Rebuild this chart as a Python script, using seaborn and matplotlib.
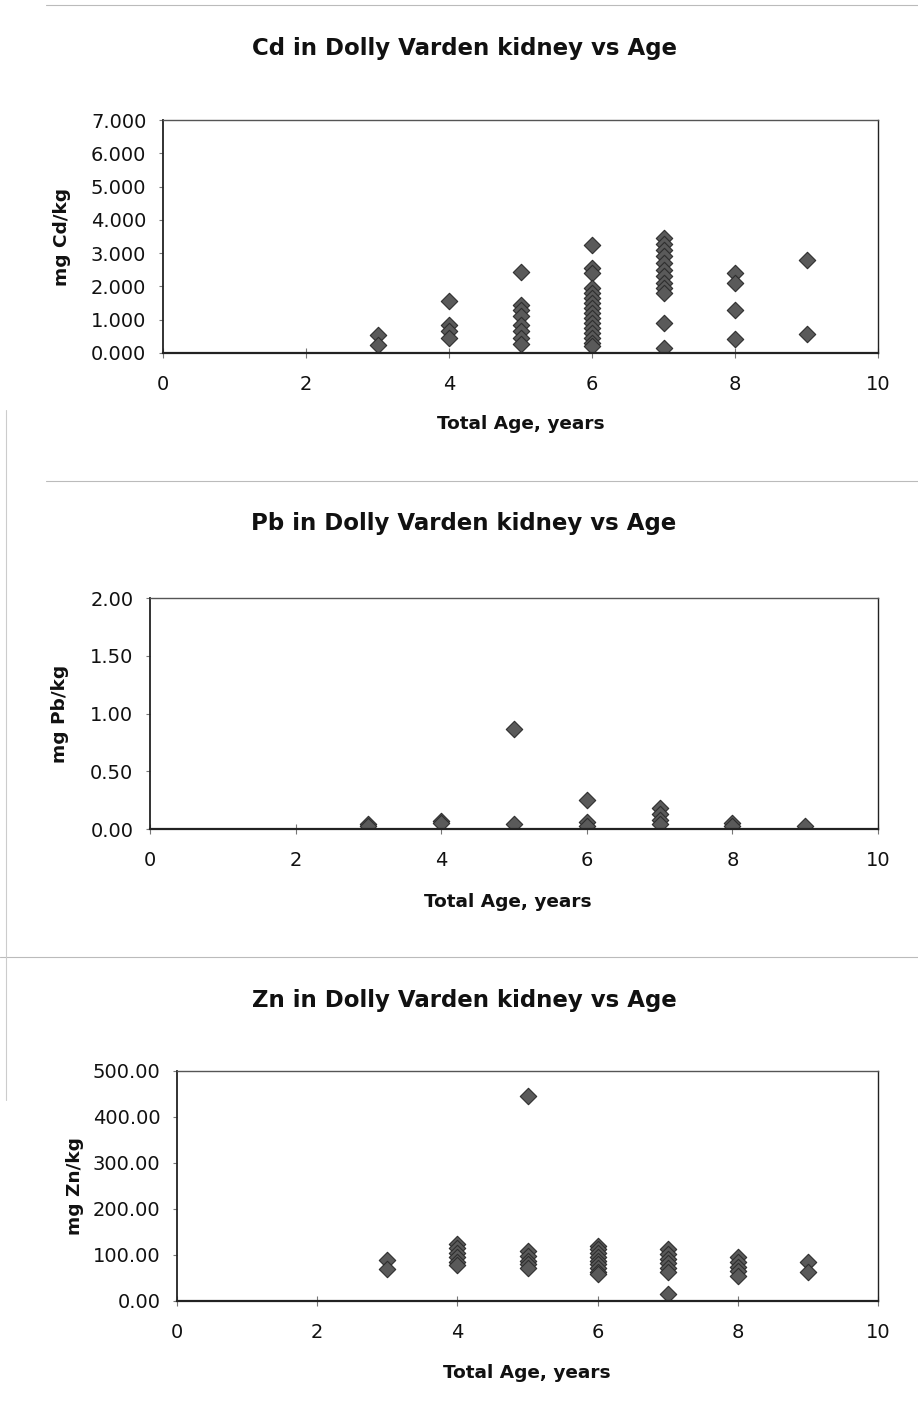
import matplotlib
matplotlib.use("Agg")
import matplotlib.pyplot as plt
import seaborn as sns
import pandas as pd
from matplotlib.ticker import FormatStrFormatter
from matplotlib.lines import Line2D

# ---- data ----
cd_age = [3, 3,
          4, 4, 4, 4,
          5, 5, 5, 5, 5, 5, 5, 5,
          6, 6, 6, 6, 6, 6, 6, 6, 6, 6, 6, 6, 6, 6, 6, 6,
          7, 7, 7, 7, 7, 7, 7, 7, 7, 7, 7, 7,
          8, 8, 8, 8,
          9, 9]
cd_val = [0.55, 0.25,
          1.55, 0.85, 0.65, 0.45,
          2.42, 1.45, 1.30, 1.10, 0.85, 0.65, 0.45, 0.28,
          3.25, 2.55, 2.40, 1.95, 1.80, 1.65, 1.50, 1.35, 1.20, 1.05, 0.90, 0.75, 0.60, 0.45, 0.30, 0.20,
          3.45, 3.28, 3.10, 2.90, 2.70, 2.50, 2.30, 2.10, 1.95, 1.80, 0.90, 0.15,
          2.40, 2.10, 1.30, 0.42,
          2.78, 0.57]

pb_age = [3, 3, 4, 4, 5, 5, 6, 6, 6, 7, 7, 7, 7, 8, 8, 9]
pb_val = [0.04, 0.03, 0.07, 0.05, 0.87, 0.04, 0.25, 0.06, 0.03, 0.18, 0.13, 0.08, 0.04, 0.05, 0.03, 0.03]

zn_age = [3, 3,
          4, 4, 4, 4, 4, 4,
          5, 5, 5, 5, 5, 5,
          6, 6, 6, 6, 6, 6, 6, 6, 6,
          7, 7, 7, 7, 7, 7, 7,
          8, 8, 8, 8, 8,
          9, 9]
zn_val = [90, 70,
          125, 115, 105, 95, 85, 78,
          445, 108, 98, 88, 80, 72,
          120, 112, 104, 96, 88, 80, 72, 64, 58,
          112, 102, 92, 82, 72, 62, 15,
          95, 85, 75, 65, 55,
          85, 62]

titles = ["Cd in Dolly Varden kidney vs Age",
          "Pb in Dolly Varden kidney vs Age",
          "Zn in Dolly Varden kidney vs Age"]
ylabels = ["mg Cd/kg", "mg Pb/kg", "mg Zn/kg"]
xlabel = "Total Age, years"
ylims = [(0, 7), (0, 2), (0, 500)]
ysteps = [1, 0.5, 100]
yfmts = ["%.3f", "%.2f", "%.2f"]

sns.set_style("white")
plt.rcParams['font.family'] = ['DejaVu Sans']

W, H = 918, 1426
fig = plt.figure(figsize=(W / 100, H / 100), dpi=100)

# axes boxes in pixels: left, right, top, bottom
boxes = [(163, 878, 120, 353), (150, 878, 598, 829), (177, 878, 1071, 1301)]
title_y = [48, 524, 1001]
xlabel_y = [424, 902, 1373]
xlabel_x = [521, 508, 527]
ylabel_x = [62, 60, 75]

datasets = [(cd_age, cd_val), (pb_age, pb_val), (zn_age, zn_val)]

for i, ((ages, vals), (l, r, t, b)) in enumerate(zip(datasets, boxes)):
    ax = fig.add_axes([l / W, 1 - b / H, (r - l) / W, (b - t) / H])
    df = pd.DataFrame({"age": ages, "val": vals})
    sns.scatterplot(data=df, x="age", y="val", ax=ax, marker="D", s=70,
                    color="#5a5a5a", edgecolor="#2e2e2e", linewidth=0.8, legend=False)
    ax.set_xlim(0, 10)
    ax.set_ylim(*ylims[i])
    ax.set_xticks(range(0, 11, 2))
    lo, hi = ylims[i]
    n = int(round((hi - lo) / ysteps[i]))
    ax.set_yticks([lo + k * ysteps[i] for k in range(n + 1)])
    ax.yaxis.set_major_formatter(FormatStrFormatter(yfmts[i]))
    ax.tick_params(axis="both", labelsize=14, colors="#111111")
    ax.tick_params(axis="x", direction="inout", length=7, width=0.8, color="#777777", pad=12, bottom=True)
    ax.tick_params(axis="y", direction="out", length=3, width=0.8, color="#777777", pad=9, left=True)
    ax.set_xlabel("")
    ax.set_ylabel("")
    for side, sp in ax.spines.items():
        sp.set_visible(True)
        sp.set_color("#222222")
        sp.set_linewidth(1.0)
    ax.spines["bottom"].set_linewidth(1.6)
    ax.spines["left"].set_linewidth(1.3)
    ax.spines["top"].set_color("#555555")
    ax.grid(False)

    fig.text(464 / W, 1 - title_y[i] / H, titles[i], ha="center", va="center",
             fontsize=16.5, fontweight="bold", color="#111111")
    fig.text(xlabel_x[i] / W, 1 - xlabel_y[i] / H, xlabel,
             ha="center", va="center", fontsize=13.3, fontweight="bold", color="#111111")
    fig.text(ylabel_x[i] / W, 1 - (t + b) / 2 / H, ylabels[i], ha="center", va="center",
             rotation=90, fontsize=13.3, fontweight="bold", color="#111111")

# faint scan separators
for y, x0, x1 in [(5, 0.05, 1.0), (481, 0.05, 1.0), (957, 0.0, 1.0)]:
    fig.add_artist(Line2D([x0, x1], [1 - y / H, 1 - y / H], color="#bbbbbb", lw=0.8))
fig.add_artist(Line2D([6 / W, 6 / W], [1 - 410 / H, 1 - 1100 / H], color="#cccccc", lw=0.8))

fig.savefig("out.png", dpi=100, facecolor="white")
